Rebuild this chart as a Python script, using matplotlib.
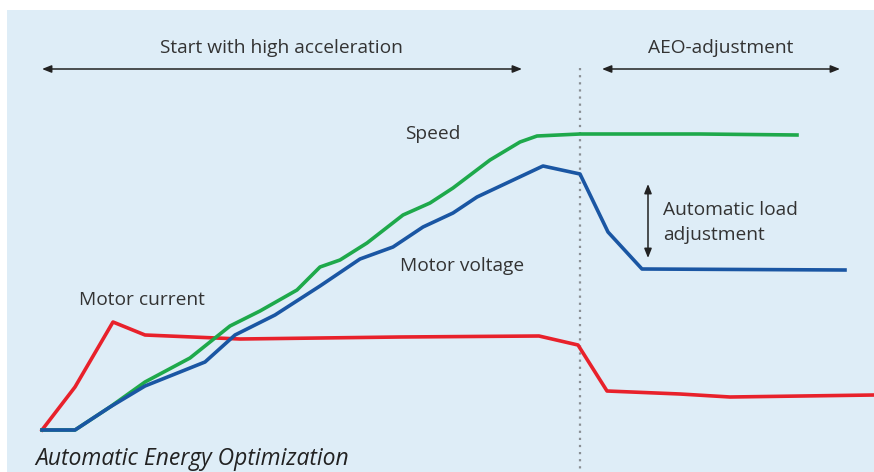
import matplotlib
matplotlib.use("Agg")
import matplotlib.pyplot as plt
from matplotlib.patches import Rectangle

# Values (pixel-like units, y grows downward)
current_x = [42, 75, 113, 145, 240, 400, 539, 578, 607, 680, 730, 874]
current_y = [430, 387, 322, 335, 339, 337, 336, 345, 391, 394, 397, 395]

speed_x = [42, 75, 110, 145, 190, 230, 260, 297, 320, 340, 367, 403, 430, 453, 490, 520, 537, 580, 700, 797]
speed_y = [430, 430, 407, 382, 358, 326, 311, 290, 267, 260, 243, 215, 203, 188, 160, 142, 136, 134, 134, 135]

voltage_x = [42, 75, 110, 145, 205, 235, 275, 320, 360, 393, 423, 453, 477, 543, 580, 608, 642, 845]
voltage_y = [430, 430, 407, 386, 362, 335, 315, 286, 259, 247, 227, 213, 197, 166, 174, 232, 269, 270]

fig = plt.figure(figsize=(8.74, 4.72), dpi=100)
ax = fig.add_axes([0, 0, 1, 1])
ax.set_xlim(0, 874)
ax.set_ylim(472, 0)
ax.axis("off")

ax.add_patch(Rectangle((7, 10), 874 - 7, 472 - 10, facecolor="#deedf7", edgecolor="none", zorder=0))

font = "Open Sans"
tc = "#333333"
fs = 13.8

# Vertical dotted separator
ax.plot([580, 580], [68, 472], color="#8a8f94", lw=1.6, ls=(0, (1, 2.2)), zorder=1)

ax.plot(current_x, current_y, color="#e8212b", lw=2.6, solid_joinstyle="round", zorder=3)
ax.plot(speed_x, speed_y, color="#1ea94b", lw=2.6, solid_joinstyle="round", zorder=3)
ax.plot(voltage_x, voltage_y, color="#1a56a3", lw=2.6, solid_joinstyle="round", zorder=4)

arrow = dict(arrowstyle="<|-|>,head_length=0.55,head_width=0.22", color="#222222", lw=1.1, shrinkA=0, shrinkB=0)
ax.annotate("", xy=(42, 69), xytext=(522, 69), arrowprops=arrow)
ax.annotate("", xy=(602, 69), xytext=(840, 69), arrowprops=arrow)
ax.annotate("", xy=(648, 184), xytext=(648, 258), arrowprops=arrow)

ax.text(281, 48, "Start with high acceleration", family=font, fontsize=fs, color=tc, ha="center", va="center")
ax.text(721, 48, "AEO-adjustment", family=font, fontsize=fs, color=tc, ha="center", va="center")
ax.text(405, 134, "Speed", family=font, fontsize=fs, color=tc, ha="left", va="center")
ax.text(400, 266, "Motor voltage", family=font, fontsize=fs, color=tc, ha="left", va="center")
ax.text(79, 300, "Motor current", family=font, fontsize=fs, color=tc, ha="left", va="center")
ax.text(663, 210, "Automatic load", family=font, fontsize=fs, color=tc, ha="left", va="center")
ax.text(663, 235, "adjustment", family=font, fontsize=fs, color=tc, ha="left", va="center")
ax.text(35, 459, "Automatic Energy Optimization", family=font, fontsize=16.5, style="italic", color="#222222", ha="left", va="center")

fig.savefig("out.png", dpi=100)
